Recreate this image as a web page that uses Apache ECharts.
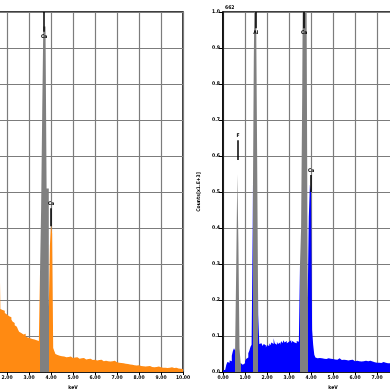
<!DOCTYPE html>
<html>
<head>
<meta charset="utf-8">
<script src="https://cdn.jsdelivr.net/npm/echarts@6/dist/echarts.min.js"></script>
<style>
html,body{margin:0;padding:0;background:#fff;}
#chart{width:390px;height:390px;}
</style>
</head>
<body>
<div id="chart"></div>
<script>
// ---- data ----
const binWidth = 0.05; // keV per channel bin
// left spectrum (orange), bins starting at 1.50 keV
const leftStart = 1.50;
const leftCounts = [
  0.200,0.220,0.300,0.380,0.175,0.172,0.168,0.170,0.164,0.160,
  0.162,0.155,0.150,0.152,0.146,0.140,0.136,0.130,0.126,0.122,
  0.118,0.112,0.108,0.112,0.104,0.100,0.106,0.098,0.096,0.100,
  0.094,0.098,0.092,0.096,0.090,0.094,0.088,0.092,0.086,0.095,
  0.275,0.450,0.720,0.960,0.960,0.960,0.510,0.510,0.180,0.350,
  0.410,0.385,0.067,0.058,0.050,0.047,0.049,0.045,0.047,0.044,
  0.046,0.043,0.045,0.041,0.044,0.042,0.040,0.043,0.041,0.039,
  0.042,0.040,0.038,0.041,0.039,0.037,0.040,0.038,0.036,0.039,
  0.037,0.035,0.038,0.036,0.034,0.037,0.035,0.033,0.036,0.034,
  0.035,0.032,0.034,0.033,0.031,0.034,0.032,0.030,0.033,0.031,
  0.032,0.030,0.031,0.029,0.032,0.030,0.028,0.031,0.029,0.027,
  0.028,0.026,0.029,0.025,0.027,0.024,0.026,0.023,0.025,0.022,
  0.023,0.021,0.024,0.020,0.022,0.019,0.021,0.018,0.020,0.019,
  0.018,0.017,0.019,0.016,0.018,0.015,0.017,0.016,0.015,0.017,
  0.015,0.014,0.016,0.013,0.015,0.014,0.013,0.015,0.014,0.013,
  0.014,0.012,0.013,0.012,0.014,0.011,0.013,0.012,0.011,0.013,
  0.012,0.011,0.010,0.012,0.011,0.010,0.011,0.009,0.010,0.008
];
const leftPeakRanges = [[3.50, 3.90]];
const leftMarkers = ['Ca', 'Ca'];
const leftMarkerKeV = [3.69, 4.01];
const leftMarkerFrom = [1.0, 0.405];
const leftMarkerTo = [0.945, 0.455];

// right spectrum (blue), bins starting at 0.00 keV
const rightStart = 0.00;
const rightCounts = [
  0.004,0.006,0.008,0.020,0.028,0.026,0.032,0.030,0.045,0.058,
  0.066,0.060,0.285,0.550,0.360,0.066,0.025,0.020,0.022,0.024,
  0.030,0.036,0.040,0.052,0.060,0.070,0.076,0.400,0.870,1.150,
  1.050,0.620,0.158,0.078,0.080,0.076,0.072,0.078,0.074,0.068,
  0.075,0.072,0.080,0.074,0.082,0.078,0.094,0.080,0.076,0.084,
  0.078,0.082,0.076,0.086,0.080,0.088,0.082,0.086,0.080,0.084,
  0.082,0.088,0.080,0.086,0.082,0.084,0.080,0.086,0.084,0.092,
  0.300,0.400,0.770,1.300,1.400,1.100,1.020,0.205,0.430,0.520,
  0.500,0.117,0.075,0.048,0.040,0.038,0.042,0.039,0.041,0.038,
  0.040,0.037,0.039,0.036,0.040,0.038,0.035,0.037,0.039,0.036,
  0.038,0.035,0.037,0.034,0.036,0.038,0.035,0.033,0.036,0.034,
  0.035,0.033,0.036,0.032,0.034,0.033,0.031,0.034,0.032,0.030,
  0.033,0.031,0.032,0.030,0.033,0.029,0.031,0.030,0.028,0.031,
  0.029,0.030,0.028,0.031,0.027,0.029,0.030,0.027,0.028,0.026,
  0.028,0.026,0.029,0.025,0.027,0.028,0.025,0.026,0.027,0.024,
  0.026,0.024,0.027,0.025,0.023,0.026,0.024,0.025,0.023,0.022
];
const rightPeakRanges = [[0.55, 0.80], [1.35, 1.60], [3.50, 3.85]];
const rightMarkers = ['F', 'Al', 'Ca', 'Ca'];
const rightMarkerKeV = [0.68, 1.49, 3.69, 4.01];
const rightMarkerFrom = [0.589, 1.0, 1.0, 0.50];
const rightMarkerTo = [0.644, 0.955, 0.955, 0.547];

const fullScaleText = '662';
const xTickLabels = v => v.toFixed(2);
const yTickLabels = v => v.toFixed(1);

// ---- style ----
const ORANGE = '#ff8a12';
const BLUE = '#0000ff';
const GRAY = '#808080';
const GRID = '#7c7c7c';
const FONT = '"DejaVu Sans Condensed", "Liberation Sans Narrow", "DejaVu Sans", sans-serif';

function toSeriesData(start, counts) {
  const d = counts.map((v, i) => [+(start + i * binWidth).toFixed(3), v]);
  d.push([+(start + counts.length * binWidth).toFixed(3), counts[counts.length - 1]]);
  return d;
}
function markerLines(names, kev, from, to) {
  return names.map((n, i) => [
    { coord: [kev[i], from[i]], name: n },
    { coord: [kev[i], to[i]] }
  ]);
}

const axisLabelStyle = { fontSize: 5, fontWeight: 'bold', color: '#000', fontFamily: FONT };

function makeX(gridIndex) {
  return {
    type: 'value', gridIndex, min: 0, max: 10, interval: 1,
    name: 'keV', nameLocation: 'middle', nameGap: 13,
    nameTextStyle: { fontSize: 5, fontWeight: 'bold', color: '#000', fontFamily: FONT },
    axisLine: { show: true, lineStyle: { color: '#000', width: 1.5 } },
    axisTick: { show: true, length: 3, lineStyle: { color: '#000', width: 1 } },
    axisLabel: Object.assign({ formatter: xTickLabels, margin: 3, showMinLabel: true, showMaxLabel: true, hideOverlap: false }, axisLabelStyle),
    splitLine: { show: true, lineStyle: { color: GRID, width: 1.2 } }
  };
}
function makeY(gridIndex) {
  return {
    type: 'value', gridIndex, min: 0, max: 1, interval: 0.1,
    name: 'Counts[x1.E+3]', nameLocation: 'middle', nameGap: 22,
    nameTextStyle: { fontSize: 5, fontWeight: 'bold', color: '#000', fontFamily: FONT },
    axisLine: { show: true, lineStyle: { color: '#000', width: 1.5 } },
    axisTick: { show: true, length: 4, lineStyle: { color: '#000', width: 1 } },
    axisLabel: Object.assign({ formatter: yTickLabels, margin: 3, showMinLabel: true, showMaxLabel: true }, axisLabelStyle),
    splitLine: { show: true, lineStyle: { color: GRID, width: 1.2 } }
  };
}
function makeSeries(idx, start, counts, names, kev, from, to) {
  return {
    type: 'line', xAxisIndex: idx, yAxisIndex: idx,
    data: toSeriesData(start, counts),
    step: 'end', symbol: 'none', showSymbol: false,
    lineStyle: { width: 0 },
    areaStyle: { opacity: 1 },
    clip: true, silent: true, animation: false,
    markLine: {
      silent: true, animation: false, symbol: ['none', 'none'],
      lineStyle: { color: '#000', width: 1.5, type: 'solid' },
      label: {
        show: true, position: 'end', distance: 2,
        formatter: p => p.name,
        fontSize: 5, fontWeight: 'bold', color: '#000', fontFamily: FONT
      },
      data: markerLines(names, kev, from, to)
    }
  };
}
function peakPieces(ranges) {
  return ranges.map(r => ({ gte: r[0], lt: r[1], color: GRAY }));
}

const chart = echarts.init(document.getElementById('chart'), null, { renderer: 'canvas' });
chart.setOption({
  animation: false,
  backgroundColor: '#fff',
  grid: [
    { left: -37, top: 12, width: 220, height: 360, show: true, borderColor: '#000', borderWidth: 1.5, containLabel: false, outerBoundsMode: 'none' },
    { left: 223, top: 12, width: 220, height: 360, show: true, borderColor: '#000', borderWidth: 1.5, containLabel: false, outerBoundsMode: 'none' }
  ],
  xAxis: [makeX(0), makeX(1)],
  yAxis: [makeY(0), makeY(1)],
  visualMap: [
    { type: 'piecewise', show: false, seriesIndex: 0, dimension: 0, pieces: peakPieces(leftPeakRanges), outOfRange: { color: ORANGE } },
    { type: 'piecewise', show: false, seriesIndex: 1, dimension: 0, pieces: peakPieces(rightPeakRanges), outOfRange: { color: BLUE } }
  ],
  series: [
    makeSeries(0, leftStart, leftCounts, leftMarkers, leftMarkerKeV, leftMarkerFrom, leftMarkerTo),
    makeSeries(1, rightStart, rightCounts, rightMarkers, rightMarkerKeV, rightMarkerFrom, rightMarkerTo)
  ],
  graphic: [
    { type: 'text', left: 225, top: 5, style: { text: fullScaleText, fontSize: 5, fontWeight: 'bold', fill: '#000', fontFamily: FONT } }
  ]
});
</script>
</body>
</html>
